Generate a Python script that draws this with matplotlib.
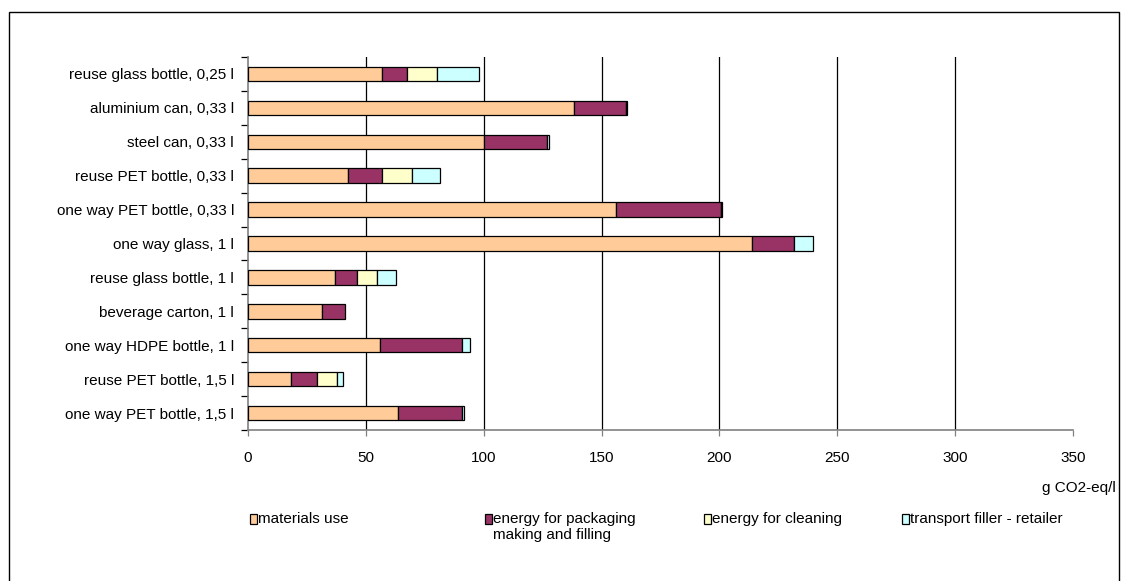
import numpy as np
import matplotlib
matplotlib.use("Agg")
import matplotlib.pyplot as plt
from matplotlib.patches import Rectangle

plt.rcParams["font.family"] = ["Liberation Sans", "DejaVu Sans"]

# data, top to bottom as in the chart
categories = [
    "reuse glass bottle, 0,25 l",
    "aluminium can, 0,33 l",
    "steel can, 0,33 l",
    "reuse PET bottle, 0,33 l",
    "one way PET bottle, 0,33 l",
    "one way glass, 1 l",
    "reuse glass bottle, 1 l",
    "beverage carton, 1 l",
    "one way HDPE bottle, 1 l",
    "reuse PET bottle, 1,5 l",
    "one way PET bottle, 1,5 l",
]
materials_use = [57.0, 138.4, 100.0, 42.3, 156.1, 214.0, 36.8, 31.2, 56.1, 18.4, 63.6]
energy_packaging = [10.3, 21.8, 26.8, 14.5, 44.4, 17.7, 9.6, 9.9, 34.8, 10.9, 27.2]
energy_cleaning = [12.7, 0.0, 0.0, 12.6, 0.0, 0.0, 8.2, 0.0, 0.0, 8.3, 0.0]
transport = [18.1, 0.7, 1.0, 12.0, 0.6, 8.1, 8.3, 0.0, 3.1, 2.8, 0.7]

series_labels = [
    "materials use",
    "energy for packaging\nmaking and filling",
    "energy for cleaning",
    "transport filler - retailer",
]
series_colors = ["#FFCC99", "#993366", "#FFFFCC", "#CCFFFF"]
x_ticks = [0, 50, 100, 150, 200, 250, 300, 350]

FS = 11
W, H = 1124, 581

fig = plt.figure(figsize=(W / 100, H / 100), dpi=100)
ax = fig.add_axes([248 / W, 1 - 430 / H, (1073 - 248) / W, (430 - 57) / H])

y = np.arange(len(categories))[::-1]
left = np.zeros(len(categories))
for vals, col in zip([materials_use, energy_packaging, energy_cleaning, transport], series_colors):
    vals = np.array(vals)
    mask = vals > 0
    ax.barh(y[mask], vals[mask], left=left[mask], height=0.425, color=col,
            edgecolor="black", linewidth=0.9, zorder=3)
    left += vals

ax.set_xlim(0, 350)
ax.set_ylim(-0.5, len(categories) - 0.5)

# vertical grid lines
for xv in x_ticks[1:-1]:
    ax.axvline(xv, color="black", linewidth=0.9, zorder=1)

ax.set_xticks(x_ticks)
ax.set_xticklabels([str(v) for v in x_ticks], fontsize=FS)
ax.tick_params(axis="x", direction="out", length=4, width=0.9, color="#808080", pad=11)

ax.set_yticks(y)
ax.set_yticklabels(categories, fontsize=FS)
ax.tick_params(axis="y", length=0, pad=10)
# y tick marks between categories
ax.set_yticks(np.arange(-0.5, len(categories), 1), minor=True)
ax.tick_params(axis="y", which="minor", direction="out", length=5, width=0.9, color="black")

for s in ["top", "right"]:
    ax.spines[s].set_visible(False)
for s in ["left", "bottom"]:
    ax.spines[s].set_color("#808080")
    ax.spines[s].set_linewidth(1.2)

fig.text(1116 / W, 1 - 488 / H, "g CO2-eq/l", ha="right", va="center", fontsize=FS)

# legend drawn by hand so the swatch sits on the first text line
leg_x = [250, 485, 704, 902]
leg_y = 519
for lx, lab, col in zip(leg_x, series_labels, series_colors):
    fig.patches.append(Rectangle((lx / W, 1 - (leg_y + 5) / H), 7 / W, 10 / H,
                                 transform=fig.transFigure, facecolor=col,
                                 edgecolor="black", linewidth=0.9))
    fig.text((lx + 8) / W, 1 - (leg_y - 7) / H, lab, ha="left", va="top",
             fontsize=FS, linespacing=1.2)

# outer chart frame
fig.patches.append(Rectangle((9 / W, -0.05), (1119 - 9) / W, 1.05 - 12.5 / H,
                             transform=fig.transFigure, fill=False,
                             edgecolor="black", linewidth=1.0))

fig.savefig("out.png", dpi=100)
